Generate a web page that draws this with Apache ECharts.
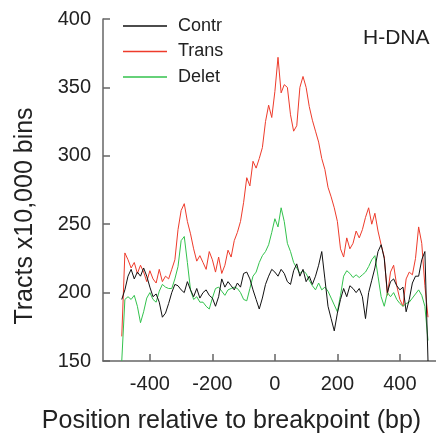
<!DOCTYPE html>
<html>
<head>
<meta charset="utf-8">
<script src="https://cdn.jsdelivr.net/npm/echarts@6/dist/echarts.min.js"></script>
<style>
html,body{margin:0;padding:0;background:#fff;}
#chart{width:436px;height:437px;}
</style>
</head>
<body>
<div id="chart"></div>
<script>
var positions = [
 -490,-480,-470,-460,-450,-440,-430,-420,-410,-400,
 -390,-380,-370,-360,-350,-340,-330,-320,-310,-300,
 -290,-280,-270,-260,-250,-240,-230,-220,-210,-200,
 -190,-180,-170,-160,-150,-140,-130,-120,-110,-100,
 -90,-80,-70,-60,-50,-40,-30,-20,-10,0,
 10,20,30,40,50,60,70,80,90,100,
 110,120,130,140,150,160,170,180,190,200,
 210,220,230,240,250,260,270,280,290,300,
 310,320,330,340,350,360,370,380,390,400,
 410,420,430,440,450,460,470,480,490
];
var contr = [
 195,202,212,217,210,215,212,218,212,204,
 197,199,193,182,185,192,200,206,205,202,
 200,208,202,197,203,196,200,202,198,196,
 190,197,210,204,208,205,202,207,204,214,
 215,210,202,195,188,196,206,212,217,215,
 212,217,214,208,206,216,221,212,217,208,
 212,206,212,220,230,210,190,181,172,185,
 195,203,197,205,203,200,203,197,181,200,
 209,218,230,235,225,200,208,210,205,202,
 204,186,195,207,212,212,224,230,150
];
var trans = [
 168,229,224,218,222,214,220,215,208,216,
 210,207,217,208,212,210,217,224,246,260,
 265,252,243,232,223,227,222,217,230,224,
 215,226,214,220,231,226,238,244,252,266,
 284,278,296,291,298,306,325,337,328,347,
 372,346,352,350,330,318,322,350,358,350,
 336,326,318,310,298,290,277,270,262,252,
 232,226,240,232,236,245,240,246,255,262,
 250,258,245,235,226,198,215,220,205,195,
 190,210,215,213,225,248,236,205,182
];
var delet = [
 150,195,197,195,198,190,178,186,196,200,
 195,193,201,206,204,203,203,210,219,238,
 241,222,202,195,197,193,193,190,188,196,
 203,204,201,198,202,203,204,203,200,195,
 194,203,212,215,222,227,230,235,244,254,
 248,262,252,236,230,222,218,214,216,214,
 209,205,202,207,202,204,201,196,191,186,
 198,212,216,214,211,213,211,213,215,219,
 224,227,212,197,190,200,197,200,195,192,
 190,192,193,196,199,202,198,190,165
];
var xTicks = [-400,-200,0,200,400];
var seriesNames = ['Contr','Trans','Delet'];
var xTitle = 'Position relative to breakpoint (bp)';
var yTitle = 'Tracts x10,000 bins';

function pairs(vals){ return positions.map(function(p,i){ return [p, vals[i]]; }); }

var FONT = '"Liberation Sans", Arial, sans-serif';
var chart = echarts.init(document.getElementById('chart'));
chart.setOption({
  animation:false,
  backgroundColor:'#fff',
  grid:{left:103, right:0, top:19, bottom:76, containLabel:false},
  legend:{
    data:seriesNames, orient:'vertical', left:123, top:16,
    icon:'rect', itemWidth:44, itemHeight:1.5, itemGap:5.5, padding:0,
    textStyle:{fontFamily:FONT, fontSize:18, color:'#222', lineHeight:20, padding:[0,0,0,6]}
  },
  graphic:[
    {type:'text', left:363, top:28, style:{text:'H-DNA', font:'21px "Liberation Sans", Arial, sans-serif', fill:'#222'}},
    {type:'text', x:231.5, y:421, style:{text:xTitle, font:'25px "Liberation Sans", Arial, sans-serif', fill:'#222', align:'center', verticalAlign:'middle'}},
    {type:'text', x:25, y:216, rotation:Math.PI/2, style:{text:yTitle, font:'25px "Liberation Sans", Arial, sans-serif', fill:'#222', align:'center', verticalAlign:'middle'}}
  ],
  xAxis:{
    type:'value', min:-550, max:515.6, interval:50,
    axisLine:{show:true, onZero:false, lineStyle:{color:'#666', width:1.5}},
    axisTick:{show:true, inside:true, length:7, customValues:xTicks, lineStyle:{color:'#666', width:1.5}},
    axisLabel:{customValues:xTicks, margin:13, fontFamily:FONT, fontSize:20, color:'#222'},
    splitLine:{show:false}
  },
  yAxis:{
    type:'value', min:150, max:400, interval:50,
    axisLine:{show:true, onZero:false, lineStyle:{color:'#666', width:1.5}},
    axisTick:{show:true, inside:true, length:7, lineStyle:{color:'#666', width:1.5}},
    axisLabel:{margin:12, fontFamily:FONT, fontSize:20, color:'#222'},
    splitLine:{show:false}
  },
  series:[
    {name:'Trans', type:'line', data:pairs(trans), symbol:'none', color:'#ee3b2b', lineStyle:{width:1, color:'#ee3b2b'}},
    {name:'Delet', type:'line', data:pairs(delet), symbol:'none', color:'#33c24d', lineStyle:{width:1, color:'#33c24d'}},
    {name:'Contr', type:'line', data:pairs(contr), symbol:'none', color:'#111', lineStyle:{width:1, color:'#111'}}
  ]
});
</script>
</body>
</html>
